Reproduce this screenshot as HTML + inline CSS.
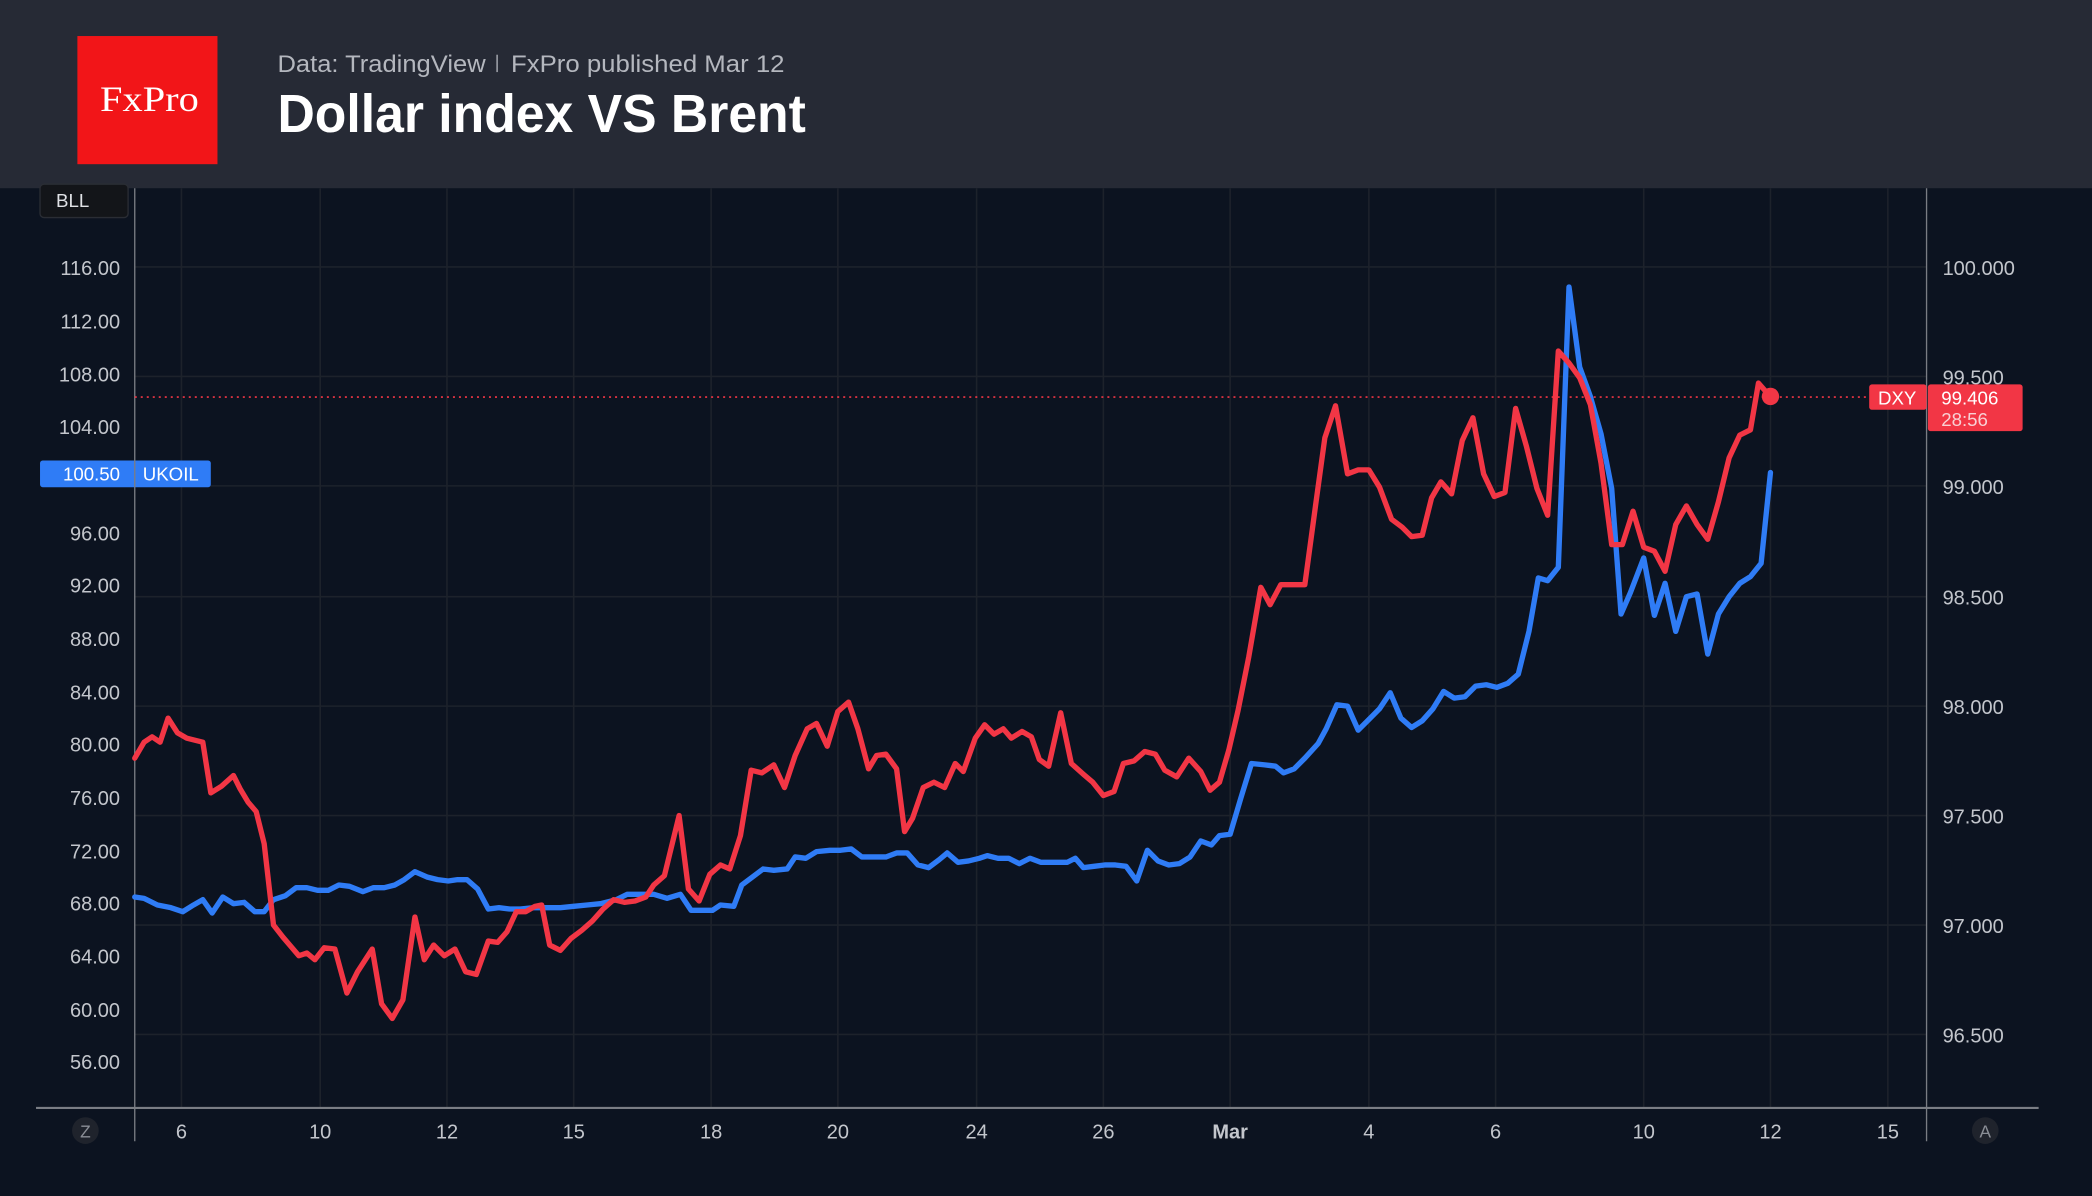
<!DOCTYPE html>
<html><head><meta charset="utf-8"><style>
html,body{margin:0;padding:0;background:#0c1320;overflow:hidden}
svg{display:block}
</style></head><body>
<svg width="2092" height="1196" viewBox="0 0 1568 896" preserveAspectRatio="none" xmlns="http://www.w3.org/2000/svg" font-family="Liberation Sans, sans-serif">
<rect width="1568" height="896" fill="#0c1320"/>
<rect width="1568" height="141" fill="#262a35"/>
<rect x="58" y="27" width="105" height="96" fill="#f21518"/>
<text x="112" y="83" style="font-family:'Liberation Serif',serif" font-size="27" fill="#fff" text-anchor="middle" textLength="74" lengthAdjust="spacingAndGlyphs">FxPro</text>
<text x="208" y="54" font-size="18" fill="#b4b7be" textLength="156" lengthAdjust="spacingAndGlyphs">Data: TradingView</text>
<rect x="372" y="41" width="1.2" height="13" fill="#9a9ea6"/>
<text x="383" y="54" font-size="18" fill="#b4b7be" textLength="205" lengthAdjust="spacingAndGlyphs">FxPro published Mar 12</text>
<text x="208" y="99" font-size="40" font-weight="bold" fill="#fff" textLength="396" lengthAdjust="spacingAndGlyphs">Dollar index VS Brent</text>
<g stroke="#1d222b" stroke-width="1.2">
<line x1="101" x2="1444" y1="200" y2="200"/><line x1="101" x2="1444" y1="282" y2="282"/>
<line x1="101" x2="1444" y1="364" y2="364"/><line x1="101" x2="1444" y1="447" y2="447"/>
<line x1="101" x2="1444" y1="529" y2="529"/><line x1="101" x2="1444" y1="611" y2="611"/>
<line x1="101" x2="1444" y1="693" y2="693"/><line x1="101" x2="1444" y1="775" y2="775"/>
<line x1="136" x2="136" y1="141" y2="830"/><line x1="240" x2="240" y1="141" y2="830"/>
<line x1="335" x2="335" y1="141" y2="830"/><line x1="430" x2="430" y1="141" y2="830"/>
<line x1="533" x2="533" y1="141" y2="830"/><line x1="628" x2="628" y1="141" y2="830"/>
<line x1="732" x2="732" y1="141" y2="830"/><line x1="827" x2="827" y1="141" y2="830"/>
<line x1="922" x2="922" y1="141" y2="830"/><line x1="1026" x2="1026" y1="141" y2="830"/>
<line x1="1121" x2="1121" y1="141" y2="830"/><line x1="1232" x2="1232" y1="141" y2="830"/>
<line x1="1327" x2="1327" y1="141" y2="830"/><line x1="1415" x2="1415" y1="141" y2="830"/>
</g>
<line x1="101" x2="101" y1="141" y2="855" stroke="#7a7d84" stroke-width="1"/>
<line x1="1444" x2="1444" y1="141" y2="855" stroke="#7a7d84" stroke-width="1"/>
<line x1="27" x2="1528" y1="830" y2="830" stroke="#7a7d84" stroke-width="1.6"/>
<g font-size="15" fill="#c3c6cc" text-anchor="end">
<text x="90" y="206">116.00</text><text x="90" y="246">112.00</text><text x="90" y="286">108.00</text>
<text x="90" y="325">104.00</text><text x="90" y="405">96.00</text><text x="90" y="444">92.00</text>
<text x="90" y="484">88.00</text><text x="90" y="524">84.00</text><text x="90" y="563">80.00</text>
<text x="90" y="603">76.00</text><text x="90" y="643">72.00</text><text x="90" y="682">68.00</text>
<text x="90" y="722">64.00</text><text x="90" y="762">60.00</text><text x="90" y="801">56.00</text>
</g>
<g font-size="15" fill="#c3c6cc">
<text x="1456" y="206">100.000</text><text x="1456" y="288">99.500</text><text x="1456" y="370">99.000</text>
<text x="1456" y="453">98.500</text><text x="1456" y="535">98.000</text><text x="1456" y="617">97.500</text>
<text x="1456" y="699">97.000</text><text x="1456" y="781">96.500</text>
</g>
<g font-size="15" fill="#c3c6cc" text-anchor="middle">
<text x="136" y="853">6</text><text x="240" y="853">10</text><text x="335" y="853">12</text>
<text x="430" y="853">15</text><text x="533" y="853">18</text><text x="628" y="853">20</text>
<text x="732" y="853">24</text><text x="827" y="853">26</text><text x="922" y="853" font-weight="bold">Mar</text>
<text x="1026" y="853">4</text><text x="1121" y="853">6</text><text x="1232" y="853">10</text>
<text x="1327" y="853">12</text><text x="1415" y="853">15</text>
</g>
<circle cx="64" cy="847" r="10" fill="#1f232c"/><text x="64" y="852" font-size="13" fill="#8a8e96" text-anchor="middle">Z</text>
<circle cx="1488" cy="847" r="10" fill="#1f232c"/><text x="1488" y="852" font-size="13" fill="#8a8e96" text-anchor="middle">A</text>
<line x1="101" x2="1444" y1="297.5" y2="297.5" stroke="#f23645" stroke-width="1.2" stroke-dasharray="1.5,3"/>
<polyline fill="none" stroke="#2f7cf6" stroke-width="4" stroke-linejoin="round" stroke-linecap="round" points="101,672 108,673 118,678 128,680 137,683 145,678 152,674 159,684 167,672 175,677 183,676 191,683 198,683 205,674 214,671 222,665 230,665 238,667 246,667 254,663 262,664 272,668 280,665 288,665 296,663 303,659 311,653 320,657 328,659 336,660 343,659 350,659 358,666 366,681 374,680 382,681 390,681 400,680 410,680 420,680 430,679 440,678 450,677 462,674 470,670 480,670 490,670 500,673 510,670 518,682 526,682 534,682 540,678 550,679 556,663 564,657 572,651 580,652 590,651 596,642 604,643 612,638 622,637 630,637 638,636 646,642 656,642 664,642 672,639 680,639 688,648 696,650 704,644 710,639 718,646 726,645 734,643 740,641 748,643 756,643 764,647 772,643 780,646 790,646 800,646 806,643 812,650 820,649 828,648 836,648 844,649 852,660 860,637 868,645 876,648 884,647 892,642 900,630 908,633 914,626 922,625 930,598 938,572 948,573 956,574 962,579 970,576 978,568 988,557 994,546 1002,528 1010,529 1018,547 1026,539 1034,531 1042,519 1050,538 1058,545 1066,540 1074,531 1082,518 1090,523 1098,522 1106,514 1114,513 1122,515 1130,512 1138,505 1146,473 1153,433 1160,435 1168,425 1176,215 1184,275 1192,297 1200,325 1208,366 1215,460 1222,444 1232,418 1240,461 1248,437 1256,473 1264,447 1272,445 1280,490 1288,460 1296,447 1304,437 1312,432 1320,422 1327,354"/>
<polyline fill="none" stroke="#f23645" stroke-width="4" stroke-linejoin="round" stroke-linecap="round" points="101,568 108,556 114,552 120,556 126,538 133,549 140,553 152,556 158,594 166,589 175,581 180,591 186,601 192,608 198,632 205,693 212,702 218,709 224,716 230,714 236,719 243,710 251,711 260,744 268,728 279,711 286,752 294,763 302,749 311,687 318,719 325,708 333,716 341,711 349,728 357,730 366,705 373,706 380,698 387,683 394,683 401,679 406,678 412,708 420,712 428,703 436,697 444,690 452,681 460,674 468,676 476,675 484,672 490,663 498,656 509,611 516,666 524,675 532,655 540,648 547,651 555,626 563,577 571,579 580,573 588,590 596,566 605,546 612,542 620,559 628,533 636,526 643,546 651,576 657,566 664,565 672,576 678,623 684,613 692,590 700,586 708,590 716,572 722,578 731,553 738,543 745,550 752,546 758,553 766,548 773,552 779,569 786,574 795,534 803,572 812,580 819,586 827,596 835,593 842,572 850,570 858,563 866,565 873,577 882,582 891,568 900,578 907,592 914,586 921,562 928,532 936,492 945,440 952,453 960,438 967,438 978,438 986,379 993,328 1001,304 1010,355 1018,352 1026,352 1034,365 1043,389 1051,395 1058,402 1066,401 1073,373 1080,361 1088,370 1096,330 1104,313 1112,355 1120,372 1128,369 1136,306 1144,334 1152,366 1160,386 1168,263 1176,272 1184,283 1192,303 1200,347 1208,408 1216,408 1224,383 1232,410 1240,413 1248,428 1256,393 1264,379 1272,393 1280,404 1288,376 1296,343 1304,326 1312,322 1318,287 1325,295"/>
<circle cx="1327" cy="297" r="6.5" fill="#f23645"/>
<rect x="1401" y="288" width="43" height="19" rx="2" fill="#f23645"/>
<text x="1422" y="303" font-size="14" fill="#fff" text-anchor="middle">DXY</text>
<rect x="1445" y="288" width="71" height="35" rx="2" fill="#f23645"/>
<text x="1455" y="303" font-size="14" fill="#fff">99.406</text>
<text x="1455" y="319" font-size="14" fill="#f8d0d4">28:56</text>
<rect x="30" y="345" width="128" height="20" rx="2" fill="#2f7cf6"/>
<line x1="101" x2="101" y1="345" y2="365" stroke="#7a7d84"/>
<text x="90" y="360" font-size="14" fill="#fff" text-anchor="end">100.50</text>
<text x="107" y="360" font-size="14" fill="#fff">UKOIL</text>
<rect x="30" y="138" width="66" height="25" rx="3" fill="#131519" stroke="#2a2d34"/>
<text x="42" y="155" font-size="14" fill="#e0e2e6">BLL</text>
</svg>
</body></html>
